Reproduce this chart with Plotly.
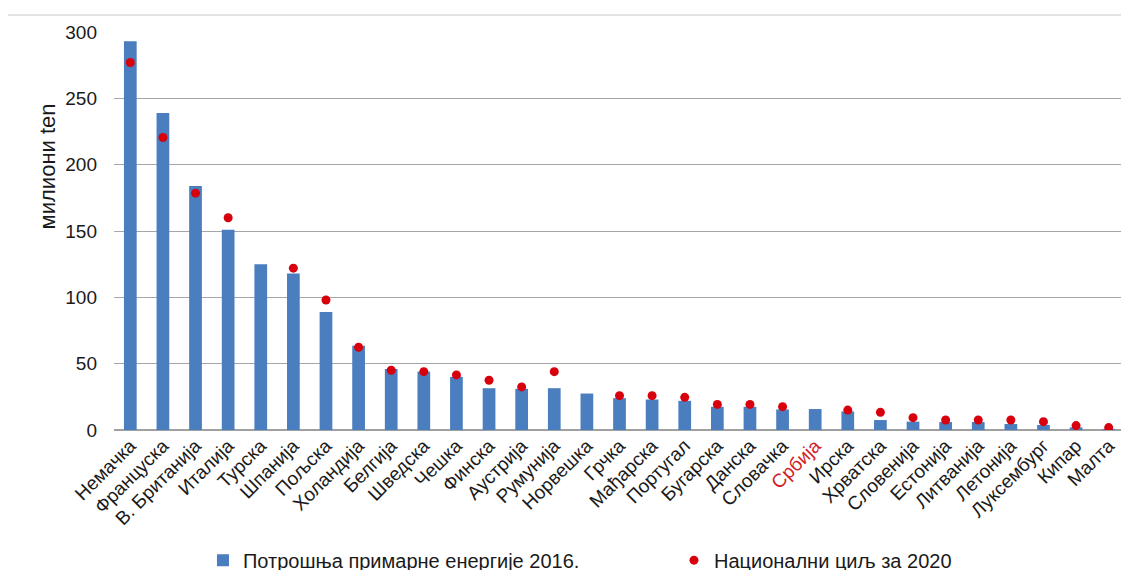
import plotly.graph_objects as go

countries = ["Немачка", "Француска", "В. Британија", "Италија", "Турска", "Шпанија",
             "Пољска", "Холандија", "Белгија", "Шведска", "Чешка", "Финска", "Аустрија",
             "Румунија", "Норвешка", "Грчка", "Мађарска", "Португал", "Бугарска", "Данска",
             "Словачка", "Србија", "Ирска", "Хрватска", "Словенија", "Естонија", "Литванија",
             "Летонија", "Луксембург", "Кипар", "Малта"]

consumption_2016 = [293, 239, 184, 151, 125, 118, 89, 63.5, 46, 44, 40, 31.5, 31, 31.5,
                    27.5, 24, 23, 22, 17.5, 17.5, 15.5, 15.8, 14, 7.5, 6.3, 6, 6, 4.5,
                    3.8, 2, 0.7]

target_2020 = [277, 220.5, 178.5, 160, None, 122, 98, 62.4, 45, 44, 41.5, 37.5, 32.5, 44,
               None, 25.9, 25.9, 24.6, 19.3, 19.3, 17.6, None, 15, 13.3, 9.3, 7.5, 7.5,
               7.5, 6.3, 3.3, 1.8]

highlight = "Србија"
yticks = [0, 50, 100, 150, 200, 250, 300]

ticktext = [f'<span style="color:#d0202a">{c}</span>' if c == highlight else c for c in countries]

FONT = "Liberation Sans"

fig = go.Figure()
fig.add_trace(go.Bar(
    x=countries, y=consumption_2016,
    name="Потрошња примарне енергије 2016.",
    marker=dict(color="#4a7ebf", line=dict(width=0)),
    width=0.39,
    legendwidth=426,
))
fig.add_trace(go.Scatter(
    x=countries, y=target_2020, mode="markers",
    name="Национални циљ за 2020",
    marker=dict(color="#d8000c", size=9),
))

fig.update_layout(
    width=1129, height=570,
    margin=dict(l=106, r=12, t=24, b=148, autoexpand=False),
    paper_bgcolor="white", plot_bgcolor="white",
    font=dict(family=FONT, size=19, color="#1a1a1a"),
    showlegend=True,
    legend=dict(orientation="h", x=0.088, xanchor="left", y=-0.327, yanchor="middle",
                font=dict(size=20, color="#1a1a1a"), itemwidth=30,
                traceorder="normal"),
    xaxis=dict(tickmode="array", tickvals=countries, ticktext=ticktext, tickangle=-45,
               showgrid=False, showline=False, ticks="", tickfont=dict(size=19),
               range=[-0.5, len(countries) - 0.5], automargin=False),
    yaxis=dict(range=[0, 300], tickvals=yticks, showgrid=True, gridcolor="#a6a6a6",
               gridwidth=1, zeroline=True, zerolinecolor="#a0a0a0", zerolinewidth=1.5,
               tickfont=dict(size=19), ticks="", ticklabelstandoff=16, automargin=False),
    annotations=[dict(text="милиони ten", xref="paper", yref="paper", x=-0.066, y=0.663,
                      textangle=-90, showarrow=False, font=dict(size=22, color="#1a1a1a"),
                      xanchor="center", yanchor="middle")],
    shapes=[dict(type="line", xref="paper", yref="paper", x0=-0.105, x1=1.02,
                 y0=1.0427, y1=1.0427, line=dict(color="#c8c8c8", width=1))],
)

fig.write_html("out.html")
